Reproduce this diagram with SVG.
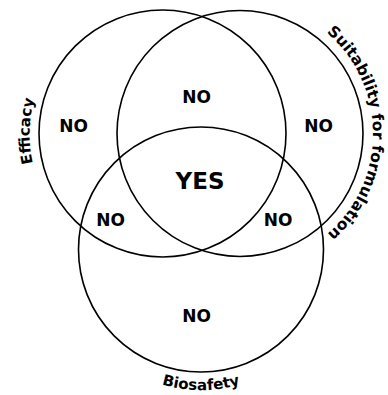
<svg xmlns="http://www.w3.org/2000/svg" width="388" height="395" viewBox="0 0 388 395">
<style>
.c{fill:none;stroke:#000;stroke-width:1.6}
.t{font-family:"DejaVu Sans",Verdana,sans-serif;font-weight:bold;fill:#000;text-anchor:middle}
.n{font-size:17px}
.y{font-size:23px}
.l{font-size:15px}
.s{font-size:15.5px}
</style>
<defs>
<path id="pEff" d="M 44.2,194.1 A 133.5,133.5 0 0 1 44.2,72.9"/>
<path id="pSuit" d="M 306.5,18.3 A 133,133 0 0 1 302.4,251"/>
<path id="pBio" d="M 130,370.8 A 140,140 0 0 0 272,370.8"/>
</defs>
<rect width="388" height="395" fill="#fff"/>
<g id="connectors"></g>
<g id="efficacy">
<circle class="c" cx="162.5" cy="133.5" r="123.5"/>
<text class="t l"><textPath href="#pEff" startOffset="52%">Efficacy</textPath></text>
</g>
<g id="suitability">
<circle class="c" cx="240" cy="133.5" r="123"/>
<text class="t s"><textPath href="#pSuit" startOffset="49%">Suitability for formulation</textPath></text>
</g>
<g id="biosafety">
<circle class="c" cx="201" cy="249.5" r="122.5"/>
<text class="t l"><textPath href="#pBio" startOffset="50%">Biosafety</textPath></text>
</g>
<g id="labels">
<text class="t n" x="73.5" y="132">NO</text>
<text class="t n" x="196.5" y="103">NO</text>
<text class="t n" x="318.5" y="132">NO</text>
<text class="t y" x="200" y="189">YES</text>
<text class="t n" x="110.5" y="226">NO</text>
<text class="t n" x="278" y="226">NO</text>
<text class="t n" x="196.5" y="322">NO</text>
</g>
</svg>
